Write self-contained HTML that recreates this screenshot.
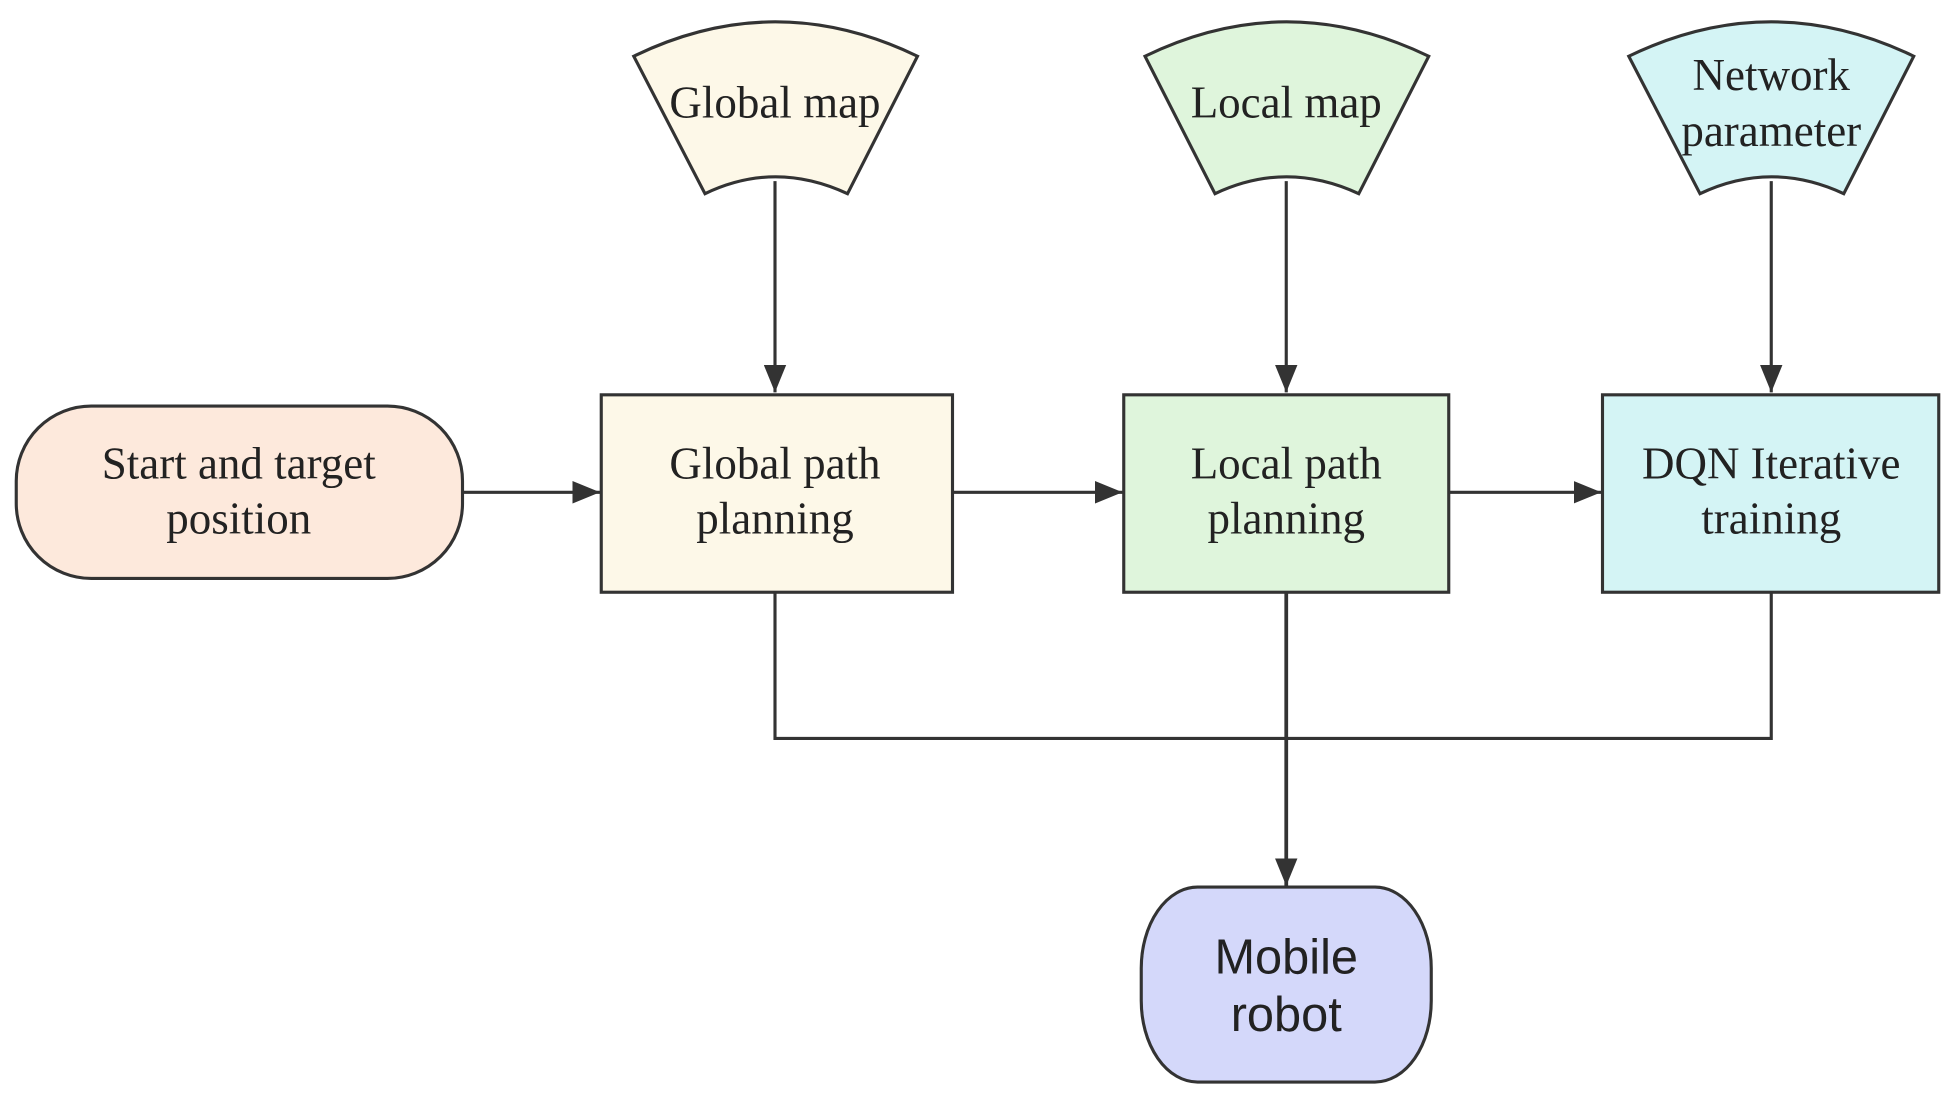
<!DOCTYPE html>
<html><head><meta charset="utf-8"><style>
html,body{margin:0;padding:0;background:#fff;}
svg{display:block;}
.t{font-family:"Liberation Serif",serif;font-size:36px;fill:#222;text-anchor:middle;}
.s{font-family:"Liberation Sans",sans-serif;font-size:39px;fill:#222;text-anchor:middle;}
</style></head><body>
<svg width="1960" height="1102" viewBox="0 0 1568 882" preserveAspectRatio="none">
<defs>
<marker id="b" markerWidth="22" markerHeight="18" refX="22" refY="9" orient="auto" markerUnits="userSpaceOnUse"><path d="M0,0 L22,9 L0,18 z" fill="#333"/></marker></defs>
<g stroke="#333" stroke-width="2.5">
<path d="M507,45 Q620,-10 734,45 L678,155 Q620,128 564,155 Z" fill="#fdf8e8"/>
<path d="M916,45 Q1029,-10 1143,45 L1087,155 Q1029,128 972,155 Z" fill="#dff5dc"/>
<path d="M1303,45 Q1417,-10 1531,45 L1475,155 Q1417,128 1360,155 Z" fill="#d4f4f5"/>
<rect x="13" y="325" width="357" height="138" rx="60" ry="60" fill="#fde9dc"/>
<rect x="481" y="316" width="281" height="158" fill="#fdf8e8"/>
<rect x="899" y="316" width="260" height="158" fill="#dff5dc"/>
<rect x="1282" y="316" width="269" height="158" fill="#d4f4f5"/>
<rect x="913" y="710" width="232" height="156" rx="45" ry="65" fill="#d4d8fa"/>
</g>
<g stroke="#333" stroke-width="2.5" fill="none">
<line x1="620" y1="145" x2="620" y2="314" marker-end="url(#b)"/>
<line x1="1029" y1="145" x2="1029" y2="314" marker-end="url(#b)"/>
<line x1="1417" y1="145" x2="1417" y2="314" marker-end="url(#b)"/>
<line x1="370" y1="394" x2="480" y2="394" marker-end="url(#b)"/>
<line x1="762" y1="394" x2="898" y2="394" marker-end="url(#b)"/>
<line x1="1159" y1="394" x2="1281" y2="394" marker-end="url(#b)"/>
<polyline points="620,474 620,591 1417,591 1417,474"/>
<line x1="1029" y1="474" x2="1029" y2="709" stroke-width="3" marker-end="url(#b)"/>
</g>
<text class="t" x="620" y="94">Global map</text>
<text class="t" x="1029" y="94">Local map</text>
<text class="t" x="1417" y="72">Network</text>
<text class="t" x="1417" y="117">parameter</text>
<text class="t" x="191" y="383">Start and target</text>
<text class="t" x="191" y="427">position</text>
<text class="t" x="620" y="383">Global path</text>
<text class="t" x="620" y="427">planning</text>
<text class="t" x="1029" y="383">Local path</text>
<text class="t" x="1029" y="427">planning</text>
<text class="t" x="1417" y="383">DQN Iterative</text>
<text class="t" x="1417" y="427">training</text>
<text class="s" x="1029" y="779">Mobile</text>
<text class="s" x="1029" y="825">robot</text>
</svg>
</body></html>
